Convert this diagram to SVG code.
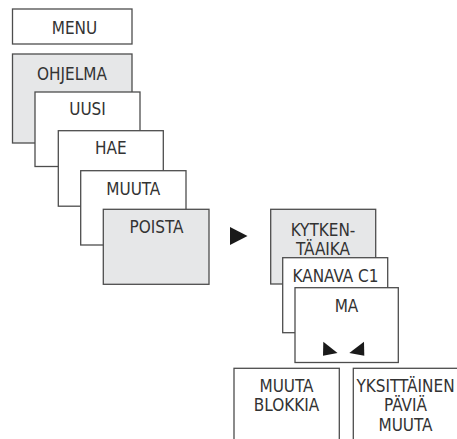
<svg xmlns="http://www.w3.org/2000/svg" width="457" height="439" viewBox="0 0 457 439">
<style>
.b{stroke:#4d4d4d;stroke-width:1.3;fill:#fff}
.g{fill:#e6e7e8}
text{font-family:"DejaVu Sans Condensed","DejaVu Sans",sans-serif;font-size:17px;fill:#333;text-anchor:middle}
.tri{fill:#1a1a1a}
</style>
<rect width="457" height="439" fill="#fff"/>
<g id="menu"><rect class="b" x="12.5" y="9" width="119.5" height="35"/><text x="74.5" y="34">MENU</text></g>
<g id="ohjelma"><rect class="b g" x="12.5" y="54" width="119.5" height="89"/><text x="72" y="79.5">OHJELMA</text></g>
<g id="uusi"><rect class="b" x="35" y="92" width="105" height="74.5"/><text x="87.5" y="115">UUSI</text></g>
<g id="hae"><rect class="b" x="58.3" y="130.7" width="105" height="75.5"/><text x="110.8" y="154">HAE</text></g>
<g id="muuta"><rect class="b" x="80.7" y="170.7" width="105.3" height="74.3"/><text x="133.3" y="194.5">MUUTA</text></g>
<g id="poista"><rect class="b g" x="103.3" y="209.3" width="105.7" height="75"/><text x="156.5" y="233">POISTA</text></g>
<g id="connectors"><polygon class="tri" points="230,227 247.5,236 230,245"/></g>
<g id="kytken"><rect class="b g" x="270.7" y="209.3" width="105" height="74.7"/><text x="323" y="235.5">KYTKEN-</text><text x="323" y="255">TÄAIKA</text></g>
<g id="kanava"><rect class="b" x="282.7" y="257.7" width="105" height="75"/><text x="335.5" y="281.5">KANAVA C1</text></g>
<g id="ma"><rect class="b" x="295" y="287.7" width="103.3" height="74.8"/><text x="346.5" y="311.5">MA</text>
<polygon class="tri" points="323.3,341.7 337.5,353 323,355.7"/><polygon class="tri" points="364,341.7 364.3,355.7 349.3,353"/></g>
<g id="blokkia"><rect class="b" x="234" y="368.3" width="105.3" height="90"/><text x="286.5" y="391.5">MUUTA</text><text x="286.5" y="410.5">BLOKKIA</text></g>
<g id="yksittainen"><rect class="b" x="353.3" y="368.3" width="105" height="90"/><text x="405.5" y="391.5">YKSITTÄINEN</text><text x="405.5" y="411">PÄVIÄ</text><text x="405.5" y="430.5">MUUTA</text></g>
</svg>
